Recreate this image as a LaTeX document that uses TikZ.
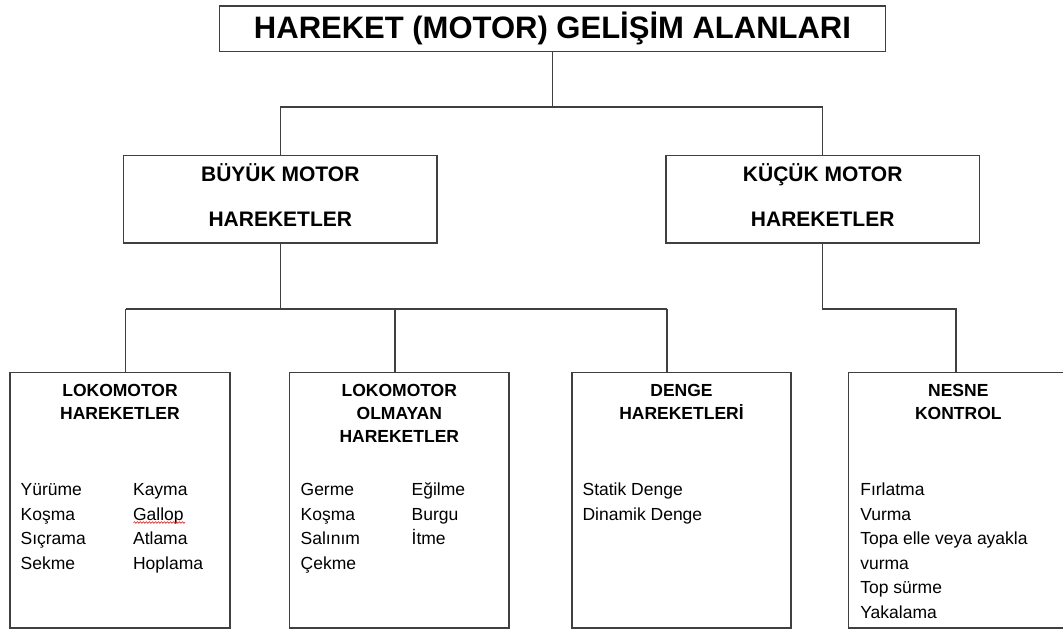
\documentclass[tikz,border=0pt]{standalone}
\usepackage{fontspec}
\setmainfont{Liberation Sans}
\usetikzlibrary{positioning, decorations.pathmorphing}

\begin{document}
\begin{tikzpicture}[x=1pt, y=-1pt,
    frame/.style={draw=black!75, line width=1.2pt, inner sep=0pt},
    wire/.style={draw=black!75, line width=1.2pt},
    mid/.style={frame, minimum width=313.3pt, minimum height=87.3pt,
                align=center, text depth=9pt,
                font=\fontsize{21}{45}\selectfont\bfseries},
    head/.style={inner sep=0pt, align=center,
                 font=\fontsize{17.5}{23}\selectfont\bfseries},
    items/.style={inner sep=0pt, align=left,
                  font=\fontsize{17.5}{24.5}\selectfont}]
  \useasboundingbox (0,0) rectangle (1063,630);

  \node[frame, minimum width=666pt, minimum height=45.7pt,
        font=\fontsize{31}{37}\selectfont\bfseries] (alan) at (552.5,28.8)
    {HAREKET (MOTOR) GELİŞİM ALANLARI};

  \node[mid] (buyuk) at (280.3,199.3) {BÜYÜK MOTOR\\HAREKETLER};
  \node[mid] (kucuk) at (822.7,199.3) {KÜÇÜK MOTOR\\HAREKETLER};

  % alt kutular
  \node[frame, minimum width=220pt, minimum height=255.5pt] (lok) at (120,500.3) {};
  \node[frame, minimum width=219.5pt, minimum height=255.5pt] (olm) at (399.3,500.3) {};
  \node[frame, minimum width=219pt, minimum height=255.5pt] (den) at (681.5,500.3) {};
  \node[frame, minimum width=220pt, minimum height=255.5pt] (nes) at (958.3,500.3) {};

  \node[head, below=12pt of lok.north] (lokh) {LOKOMOTOR\\HAREKETLER};
  \node[head, below=12pt of olm.north] (olmh) {LOKOMOTOR\\OLMAYAN\\HAREKETLER};
  \node[head, below=12pt of den.north] (denh) {DENGE\\HAREKETLERİ};
  \node[head, below=12pt of nes.north] (nesh) {NESNE\\KONTROL};

  \node[items, below right=106.6pt and 11pt of lok.north west] (loki)
    {\begin{tabular}{@{}p{112.5pt}@{}l@{}}
      Yürüme & Kayma\\ Koşma & Gallop\\ Sıçrama & Atlama\\ Sekme & Hoplama
     \end{tabular}};
  \node[items, below right=106.6pt and 11.5pt of olm.north west] (olmi)
    {\begin{tabular}{@{}p{111pt}@{}l@{}}
      Germe & Eğilme\\ Koşma & Burgu\\ Salınım & İtme\\ Çekme &
     \end{tabular}};
  \node[items, below right=106.6pt and 11pt of den.north west] (deni)
    {\begin{tabular}{@{}l@{}}
      Statik Denge\\ Dinamik Denge
     \end{tabular}};
  \node[items, below right=106.6pt and 12.4pt of nes.north west] (nesi)
    {\begin{tabular}{@{}l@{}}
      Fırlatma\\ Vurma\\ Topa elle veya ayakla\\ vurma\\ Top sürme\\ Yakalama
     \end{tabular}};
  \draw[red, line width=0.6pt, decorate,
        decoration={snake, amplitude=0.8pt, segment length=3pt}]
    (133.5,522.5) -- (185,522.5);

  % baglantilar
  \coordinate (j0) at (552.5,107);
  \coordinate (b1) at (125.7,309);
  \coordinate (b2) at (395,309);
  \coordinate (b3) at (667,309);
  \coordinate (b4) at (956,309);

  \draw[wire] (alan.south) -- (j0);
  \draw[wire] (buyuk.north) |- (j0) -| (kucuk.north);
  \draw[wire] (buyuk.south) -- (buyuk.south |- b1);
  \draw[wire] (b1) -- (b3);
  \foreach \c/\n in {b1/lok, b2/olm, b3/den}
    \draw[wire] (\c) -- (\c |- \n.north);
  \draw[wire] (kucuk.south) |- (b4) -- (b4 |- nes.north);
\end{tikzpicture}
\end{document}
